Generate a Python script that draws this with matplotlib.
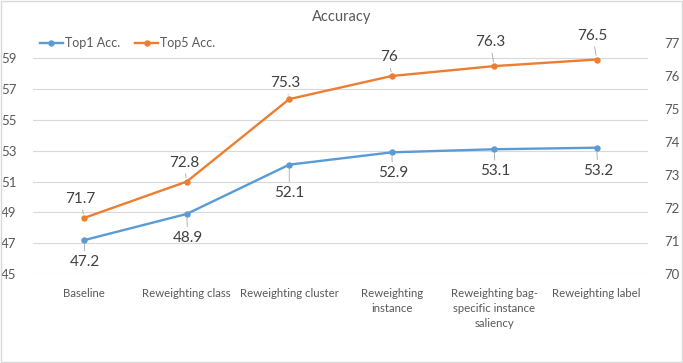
import matplotlib.pyplot as plt
from matplotlib.patches import Rectangle

# data
categories = ['Baseline', 'Reweighting class', 'Reweighting cluster',
              'Reweighting\ninstance', 'Reweighting bag-\nspecific instance\nsaliency',
              'Reweighting label']
top1 = [47.2, 48.9, 52.1, 52.9, 53.1, 53.2]
top5 = [71.7, 72.8, 75.3, 76, 76.3, 76.5]

# label offsets in pixels (dx, dy) relative to each point
top1_off = [(1, -22), (1, -24), (0, -28), (1, -21), (1, -22), (1, -23)]
top5_off = [(-4, 19), (-3, 19), (-4, 16), (-3, 19), (-4, 24), (-4, 24)]

blue = '#5B9BD5'
orange = '#ED7D31'
txt = '#595959'
lbl = '#404040'

plt.rcParams['font.family'] = ['Lato', 'DejaVu Sans']

fig = plt.figure(figsize=(6.83, 3.63), dpi=100)
fig.patches.append(Rectangle((0.001, 0.002), 0.997, 0.995, transform=fig.transFigure,
                             fill=False, edgecolor='#D9D9D9', linewidth=1.0))

ax = fig.add_axes([33 / 683, 1 - 274 / 363, 615 / 683, 231 / 363])
ax2 = ax.twinx()

x = list(range(len(categories)))

l1, = ax.plot(x, top1, color=blue, lw=1.7, marker='o', ms=3.6, label='Top1 Acc.')
l2, = ax2.plot(x, top5, color=orange, lw=1.7, marker='o', ms=3.6, label='Top5 Acc.')

ax.set_xlim(-0.5, len(categories) - 0.5)
ax.set_ylim(45, 60)
ax.set_yticks(range(45, 60, 2))
ax2.set_ylim(70, 77)
ax2.set_yticks(range(70, 78))

ax.grid(axis='y', color='#D9D9D9', lw=0.8)
ax.set_axisbelow(True)
for a in (ax, ax2):
    for s in a.spines.values():
        s.set_visible(False)
    a.tick_params(length=0, colors=txt, labelsize=9.5)
ax.tick_params(axis='y', pad=12)
ax2.tick_params(axis='y', pad=12)
ax.set_xticks(x)
ax.set_xticklabels(categories, fontsize=8.2, color=txt, linespacing=1.45, va='top')
ax.tick_params(axis='x', pad=10)

lead = dict(arrowstyle='-', color='#A6A6A6', lw=0.6, shrinkA=1, shrinkB=3)
for xi, v, (dx, dy) in zip(x, top1, top1_off):
    ax.annotate(f'{v:g}', (xi, v), xytext=(dx, dy), textcoords='offset pixels',
                ha='center', va='center', fontsize=11, color=lbl, arrowprops=lead)
for xi, v, (dx, dy) in zip(x, top5, top5_off):
    ax2.annotate(f'{v:g}', (xi, v), xytext=(dx, dy), textcoords='offset pixels',
                 ha='center', va='center', fontsize=11, color=lbl, arrowprops=lead)

fig.text(0.5, 1 - 17 / 363, 'Accuracy', ha='center', va='center', fontsize=10.5, color=txt)
fig.legend(handles=[l1, l2], loc='center left', bbox_to_anchor=(40 / 683, 1 - 43 / 363),
           ncol=2, frameon=False, fontsize=9, handlelength=1.8, handletextpad=0.2,
           columnspacing=1.2, labelcolor=txt, borderaxespad=0, borderpad=0)

fig.savefig('out.png', dpi=100)
